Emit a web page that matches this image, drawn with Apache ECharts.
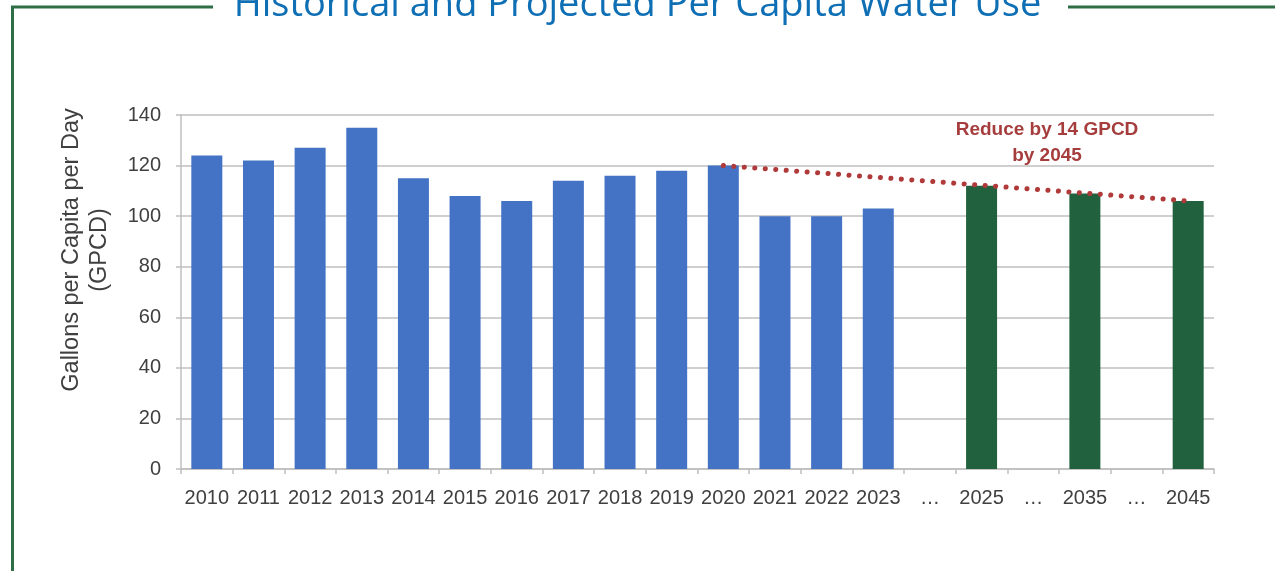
<!DOCTYPE html>
<html>
<head>
<meta charset="utf-8">
<script src="https://cdn.jsdelivr.net/npm/echarts@6/dist/echarts.min.js"></script>
<style>html,body{margin:0;padding:0;background:#fff;}#c{width:1275px;height:571px;}</style>
</head>
<body>
<div id="c"></div>
<script>
const categories = ['2010','2011','2012','2013','2014','2015','2016','2017','2018','2019','2020','2021','2022','2023','…','2025','…','2035','…','2045'];
const historicalYears = ['2010','2011','2012','2013','2014','2015','2016','2017','2018','2019','2020','2021','2022','2023'];
const historicalValues = [124, 122, 127, 135, 115, 108, 106, 114, 116, 118, 120, 100, 100, 103];
const projectedYears = ['2025','2035','2045'];
const projectedValues = [112, 109, 106];
const trendYears = ['2020','2045'];
const trendValues = [120, 106];
const yTicks = [0, 20, 40, 60, 80, 100, 120, 140];

function place(years, values) {
  const out = categories.map(() => null);
  years.forEach((y, i) => { out[categories.indexOf(y)] = values[i]; });
  return out;
}

const chart = echarts.init(document.getElementById('c'), null, {renderer: 'canvas'});
const axisFont = 'Liberation Sans, Arial, sans-serif';
chart.setOption({
  animation: false,
  backgroundColor: '#ffffff',
  title: {
    text: 'Historical and Projected Per Capita Water Use',
    left: 'center',
    top: -19,
    textStyle: {color: '#0f6fb5', fontSize: 38, fontWeight: 'normal', fontFamily: 'Open Sans, sans-serif'}
  },
  graphic: [
    {type: 'line', shape: {x1: 12.5, y1: 7, x2: 12.5, y2: 571}, style: {stroke: '#2e6e46', lineWidth: 3}},
    {type: 'line', shape: {x1: 11, y1: 7, x2: 213, y2: 7}, style: {stroke: '#2e6e46', lineWidth: 3}},
    {type: 'line', shape: {x1: 1068, y1: 7, x2: 1275, y2: 7}, style: {stroke: '#2e6e46', lineWidth: 3}},
    {type: 'text', x: 1047, y: 117, style: {text: 'Reduce by 14 GPCD\nby 2045', fill: '#a63d3d', font: 'bold 19px Liberation Sans, Arial, sans-serif', align: 'center', verticalAlign: 'top', lineHeight: 26}}
  ],
  grid: {left: 181, right: 61, top: 115, bottom: 102},
  xAxis: {
    type: 'category',
    data: categories,
    boundaryGap: true,
    axisLine: {lineStyle: {color: '#bfbfbf', width: 1.5}},
    axisTick: {show: true, length: 5, inside: false, interval: 0, lineStyle: {color: '#bfbfbf', width: 1.5}},
    axisLabel: {interval: 0, margin: 19, color: '#404040', fontSize: 20, fontFamily: axisFont}
  },
  yAxis: {
    type: 'value',
    min: 0, max: 140, interval: 20,
    name: 'Gallons per Capita per Day\n(GPCD)',
    nameLocation: 'middle',
    nameGap: 67,
    nameRotate: 90,
    nameTextStyle: {color: '#404040', fontSize: 23.5, fontFamily: axisFont, lineHeight: 28, padding: [0, 0, 0, 84]},
    axisLine: {show: true, lineStyle: {color: '#bfbfbf', width: 1.5}},
    axisTick: {show: true, length: 5, lineStyle: {color: '#bfbfbf', width: 1.5}},
    splitLine: {lineStyle: {color: '#bfbfbf', width: 1.5}},
    axisLabel: {margin: 20, color: '#404040', fontSize: 20, fontFamily: axisFont,
      formatter: v => yTicks.includes(v) ? String(v) : ''}
  },
  series: [
    {type: 'bar', name: 'Historical', data: place(historicalYears, historicalValues), barWidth: 31, barGap: '-100%',
     itemStyle: {color: '#4472c4'}},
    {type: 'bar', name: 'Projected', data: place(projectedYears, projectedValues), barWidth: 31, barGap: '-100%',
     itemStyle: {color: '#21613d'}},
    {type: 'line', name: 'Trend', data: place(trendYears, trendValues), connectNulls: true, symbol: 'none', z: 5,
     lineStyle: {color: '#b03a3a', width: 5, type: [0.1, 10.4], cap: 'round'}}
  ]
});
</script>
</body>
</html>
